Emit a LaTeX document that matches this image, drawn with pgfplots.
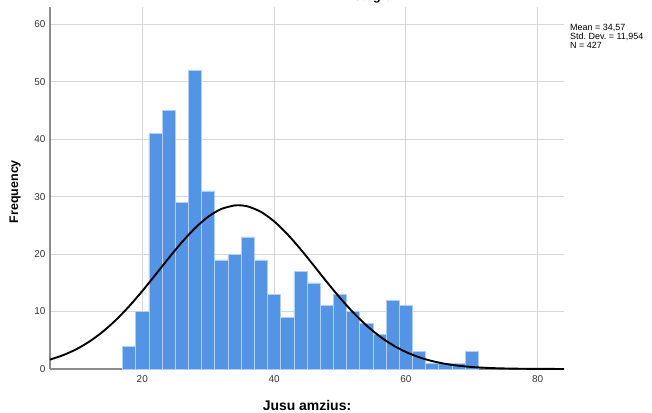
\documentclass[border=0pt]{standalone}
\usepackage{fontspec}
\setmainfont{Liberation Sans}
\usepackage{pgfplots}
\pgfplotsset{compat=1.18}
\frenchspacing
\definecolor{barblue}{RGB}{84,148,228}
\definecolor{baredge}{RGB}{178,206,242}
\definecolor{gridgray}{RGB}{215,215,215}
\definecolor{axisgray}{RGB}{140,140,140}
\definecolor{ticktext}{RGB}{55,55,55}
\begin{document}
\begin{tikzpicture}[x=1bp,y=1bp]
\begin{axis}[
  at={(0,0)}, anchor=south west,
  width=514bp, height=362bp, scale only axis,
  xmin=6, xmax=84, ymin=0, ymax=63,
  clip=false,
  axis x line=bottom, axis y line=left,
  axis line style={draw=axisgray, line width=1.2bp, -},
  xtick={20,40,60,80}, ytick={0,10,20,30,40,50,60},
  grid=major, major grid style={draw=gridgray, line width=0.9bp},
  major tick length=0pt, tick style={draw=none},
  ticklabel style={font=\fontsize{10}{11}\selectfont, text=ticktext},
  xticklabel style={yshift=-3bp},
  yticklabel style={xshift=-1bp},
  /pgf/number format/assume math mode=true,
  xlabel={Jusu amzius:}, ylabel={Frequency},
  xlabel style={at={(axis description cs:0.5,-0.115)}, anchor=base, font=\bfseries\fontsize{14}{16}\selectfont},
  ylabel style={at={(axis description cs:-0.068,0.49)}, anchor=center, font=\bfseries\fontsize{12.5}{14}\selectfont},
]
\addplot[ybar interval, fill=barblue, draw=baredge, line width=0.6bp] coordinates {
(17,4) (19,10) (21,41) (23,45) (25,29) (27,52) (29,31) (31,19) (33,20) (35,23)
(37,19) (39,13) (41,9) (43,17) (45,15) (47,11) (49,13) (51,10) (53,8) (55,6)
(57,12) (59,11) (61,3) (63,1) (65,1) (67,1) (69,3) (71,0)
};
\addplot[smooth, black, line width=1.9bp] coordinates {
(6,1.639) (8,2.410) (10,3.448) (12,4.793) (14,6.485) (16,8.528) (18,10.905)
(20,13.560) (22,16.397) (24,19.279) (26,22.042) (28,24.505) (30,26.493)
(32,27.850) (34,28.469) (34.57,28.501) (36,28.298) (38,27.352) (40,25.707)
(42,23.495) (44,20.879) (46,18.044) (48,15.163) (50,12.389) (52,9.844)
(54,7.606) (56,5.715) (58,4.175) (60,2.966) (62,2.049) (64,1.376) (66,0.899)
(68,0.571) (70,0.353) (72,0.212) (74,0.124) (76,0.070) (78,0.039) (80,0.021)
(82,0.011) (84,0.005)
};
\node[anchor=north west, align=left, font=\fontsize{9}{8.7}\selectfont, inner sep=0pt]
  at (axis description cs:1.0117,0.952) {Mean = 34,57\\Std. Dev. = 11,954\\N = 427};
\node[anchor=base, font=\bfseries\fontsize{12.5}{14}\selectfont, inner sep=0pt]
  at (axis description cs:0.628,1.0166) {Histogram};
\end{axis}
\pgfresetboundingbox
\useasboundingbox (-50bp,-44bp) rectangle (602bp,369bp);
\end{tikzpicture}
\end{document}
